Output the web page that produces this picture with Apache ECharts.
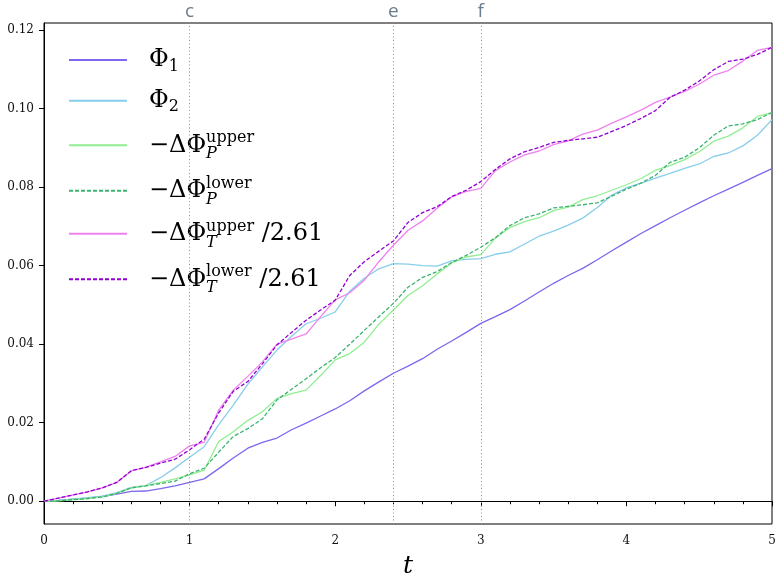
<!DOCTYPE html>
<html>
<head>
<meta charset="utf-8">
<script src="https://cdn.jsdelivr.net/npm/echarts@6/dist/echarts.min.js"></script>
<style>html,body{margin:0;padding:0;background:#fff}#chart{width:777px;height:582px}</style>
</head>
<body>
<div id="chart"></div>
<script>
const tValues = [0,0.1,0.2,0.3,0.4,0.5,0.6,0.7,0.8,0.9,1.0,1.1,1.2,1.3,1.4,1.5,1.6,1.7,1.8,1.9,2.0,2.1,2.2,2.3,2.4,2.5,2.6,2.7,2.8,2.9,3.0,3.1,3.2,3.3,3.4,3.5,3.6,3.7,3.8,3.9,4.0,4.1,4.2,4.3,4.4,4.5,4.6,4.7,4.8,4.9,5.0];
const phi1 = [0,0.0002,0.0005,0.0008,0.0012,0.0018,0.0025,0.0026,0.0032,0.0039,0.0048,0.0057,0.0083,0.0110,0.0135,0.0150,0.0161,0.0182,0.0199,0.0217,0.0235,0.0256,0.0281,0.0304,0.0326,0.0344,0.0363,0.0387,0.0408,0.0430,0.0453,0.0470,0.0488,0.0510,0.0533,0.0555,0.0575,0.0593,0.0615,0.0638,0.0660,0.0682,0.0702,0.0722,0.0741,0.0760,0.0778,0.0795,0.0812,0.0830,0.0847];
const phi2 = [0,0.0002,0.0005,0.0009,0.0013,0.0022,0.0035,0.0040,0.0060,0.0085,0.0112,0.0139,0.0195,0.0245,0.0298,0.0342,0.0385,0.0420,0.0452,0.0466,0.0482,0.0535,0.0568,0.0592,0.0605,0.0604,0.0600,0.0599,0.0612,0.0616,0.0618,0.0629,0.0635,0.0655,0.0675,0.0688,0.0703,0.0721,0.0748,0.0780,0.0798,0.0810,0.0823,0.0835,0.0848,0.0859,0.0878,0.0887,0.0905,0.0932,0.0972];
const dPupper = [0,0.0001,0.0004,0.0007,0.0011,0.0020,0.0034,0.0040,0.0048,0.0057,0.0067,0.0079,0.0152,0.0177,0.0206,0.0228,0.0262,0.0274,0.0283,0.0320,0.0360,0.0376,0.0405,0.0451,0.0487,0.0524,0.0549,0.0579,0.0607,0.0622,0.0628,0.0670,0.0697,0.0712,0.0722,0.0740,0.0749,0.0768,0.0778,0.0792,0.0806,0.0822,0.0843,0.0855,0.0870,0.0890,0.0917,0.0930,0.0951,0.0980,0.0990];
const dPlower = [0,0.0001,0.0004,0.0007,0.0011,0.0020,0.0034,0.0039,0.0045,0.0051,0.0070,0.0084,0.0125,0.0165,0.0185,0.0210,0.0258,0.0285,0.0312,0.0340,0.0366,0.0400,0.0435,0.0470,0.0504,0.0545,0.0570,0.0585,0.0608,0.0626,0.0647,0.0671,0.0702,0.0722,0.0732,0.0747,0.0751,0.0755,0.0760,0.0777,0.0795,0.0810,0.0830,0.0863,0.0876,0.0900,0.0932,0.0956,0.0961,0.0972,0.0990];
const dTupper = [0,0.0008,0.0016,0.0024,0.0034,0.0048,0.0077,0.0087,0.0100,0.0114,0.0141,0.0150,0.0232,0.0283,0.0318,0.0355,0.0400,0.0413,0.0426,0.0470,0.0513,0.0531,0.0563,0.0610,0.0652,0.0690,0.0714,0.0746,0.0775,0.0789,0.0797,0.0842,0.0864,0.0882,0.0892,0.0908,0.0918,0.0935,0.0945,0.0963,0.0979,0.0996,0.1016,0.1029,0.1044,0.1062,0.1085,0.1097,0.1121,0.1148,0.1156];
const dTlower = [0,0.0008,0.0016,0.0024,0.0034,0.0048,0.0078,0.0086,0.0097,0.0107,0.0131,0.0158,0.0225,0.0280,0.0305,0.0350,0.0398,0.0430,0.0461,0.0487,0.0512,0.0575,0.0610,0.0637,0.0663,0.0710,0.0735,0.0750,0.0776,0.0792,0.0814,0.0845,0.0872,0.0890,0.0901,0.0914,0.0919,0.0923,0.0927,0.0942,0.0957,0.0975,0.0995,0.1029,0.1047,0.1070,0.1099,0.1120,0.1126,0.1138,0.1156];
const yTickValues = [0, 0.02, 0.04, 0.06, 0.08, 0.10, 0.12];
const markerT = [1, 2.4, 3];
const markerNames = ['c', 'e', 'f'];

const seriesNames = ['phi1', 'phi2', 'dPupper', 'dPlower', 'dTupper', 'dTlower'];
const seriesValues = [phi1, phi2, dPupper, dPlower, dTupper, dTlower];
const seriesColors = ['#7b68ee', '#87ceeb', '#90ee90', '#3cb371', '#ee82ee', '#9400d3'];
const seriesDashed = [false, false, false, true, false, true];
const legendLabels = {
  phi1: '{m0|Φ}{s1|1}',
  phi2: '{m0|Φ}{s1|2}',
  dPupper: '{m0|−ΔΦ}{sub|P}{sup|upper}',
  dPlower: '{m0|−ΔΦ}{sub|P}{sup|lower}',
  dTupper: '{m0|−ΔΦ}{sub|T}{sup|upper}{m| /2.61}',
  dTlower: '{m0|−ΔΦ}{sub|T}{sup|lower}{m| /2.61}'
};
const legendRowY = [60, 100.7, 142.3, 187.7, 230.7, 276.3];

const serif = 'DejaVu Serif';
const chart = echarts.init(document.getElementById('chart'), null, {renderer: 'canvas'});

const series = seriesNames.map((name, i) => {
  const s = {
    name: name,
    type: 'line',
    data: tValues.map((t, j) => [t, seriesValues[i][j]]),
    symbol: 'none',
    showSymbol: false,
    lineStyle: {color: seriesColors[i], width: 1.3, type: seriesDashed[i] ? [4, 2] : 'solid'},
    itemStyle: {color: seriesColors[i]},
    animation: false,
    silent: true
  };
  if (i === 0) {
    s.markLine = {
      silent: true,
      symbol: ['none', 'none'],
      animation: false,
      lineStyle: {color: '#8391a0', width: 1, type: [1, 2.5]},
      label: {show: true, position: 'end', formatter: p => p.name, color: '#6b7c8f',
              fontFamily: 'Open Sans', fontSize: 19, distance: 2},
      data: markerT.map((t, k) => ({xAxis: t, name: markerNames[k]}))
    };
  }
  return s;
});

const richStyles = {
  m0: {fontFamily: serif, fontSize: 24, lineHeight: 44, padding: [0, 0, 0, 17], color: '#000'},
  m: {fontFamily: serif, fontSize: 24, lineHeight: 44, color: '#000'},
  s1: {fontFamily: serif, fontSize: 16, padding: [13, 0, 0, 0], color: '#000'},
  sub: {fontFamily: serif, fontSize: 16, fontStyle: 'italic', width: 0, padding: [18, 0, 0, 0], color: '#000'},
  sup: {fontFamily: serif, fontSize: 16, padding: [0, 0, 14, 0], color: '#000'}
};

const legends = seriesNames.map((name, i) => ({
  orient: 'vertical', left: 68, top: legendRowY[i] - 12, padding: 0, itemGap: 0,
  itemWidth: 58, itemHeight: 14, selectedMode: false,
  itemStyle: {opacity: 0},
  data: [name],
  formatter: n => legendLabels[n],
  textStyle: {color: '#000', fontFamily: serif, rich: richStyles}
}));

chart.setOption({
  backgroundColor: '#fff',
  animation: false,
  grid: {left: 44, right: 5, top: 23, bottom: 58, show: true, borderColor: '#000', borderWidth: 1,
         backgroundColor: 'transparent', containLabel: false, outerBoundsMode: 'none'},
  xAxis: {
    type: 'value', min: 0, max: 5, interval: 1,
    name: 't', nameLocation: 'middle', nameGap: 30,
    nameTextStyle: {fontFamily: serif, fontStyle: 'italic', fontSize: 25, color: '#000'},
    axisLine: {show: true, lineStyle: {color: '#000', width: 1}},
    axisTick: {show: true, length: 5, lineStyle: {color: '#000'}},
    minorTick: {show: true, splitNumber: 5, length: 3, lineStyle: {color: '#000'}},
    splitLine: {show: false},
    minorSplitLine: {show: false},
    axisLabel: {fontFamily: serif, fontSize: 12, color: '#111', margin: 11}
  },
  yAxis: {
    type: 'value', min: -0.0058, max: 0.1218,
    axisLine: {show: true, lineStyle: {color: '#000', width: 1}},
    axisTick: {show: true, length: 5, lineStyle: {color: '#000'}, customValues: yTickValues},
    splitLine: {show: false},
    axisLabel: {fontFamily: serif, fontSize: 12, color: '#111', margin: 10, customValues: yTickValues,
                formatter: v => v.toFixed(2)}
  },
  legend: legends,
  series: series
});
</script>
</body>
</html>
